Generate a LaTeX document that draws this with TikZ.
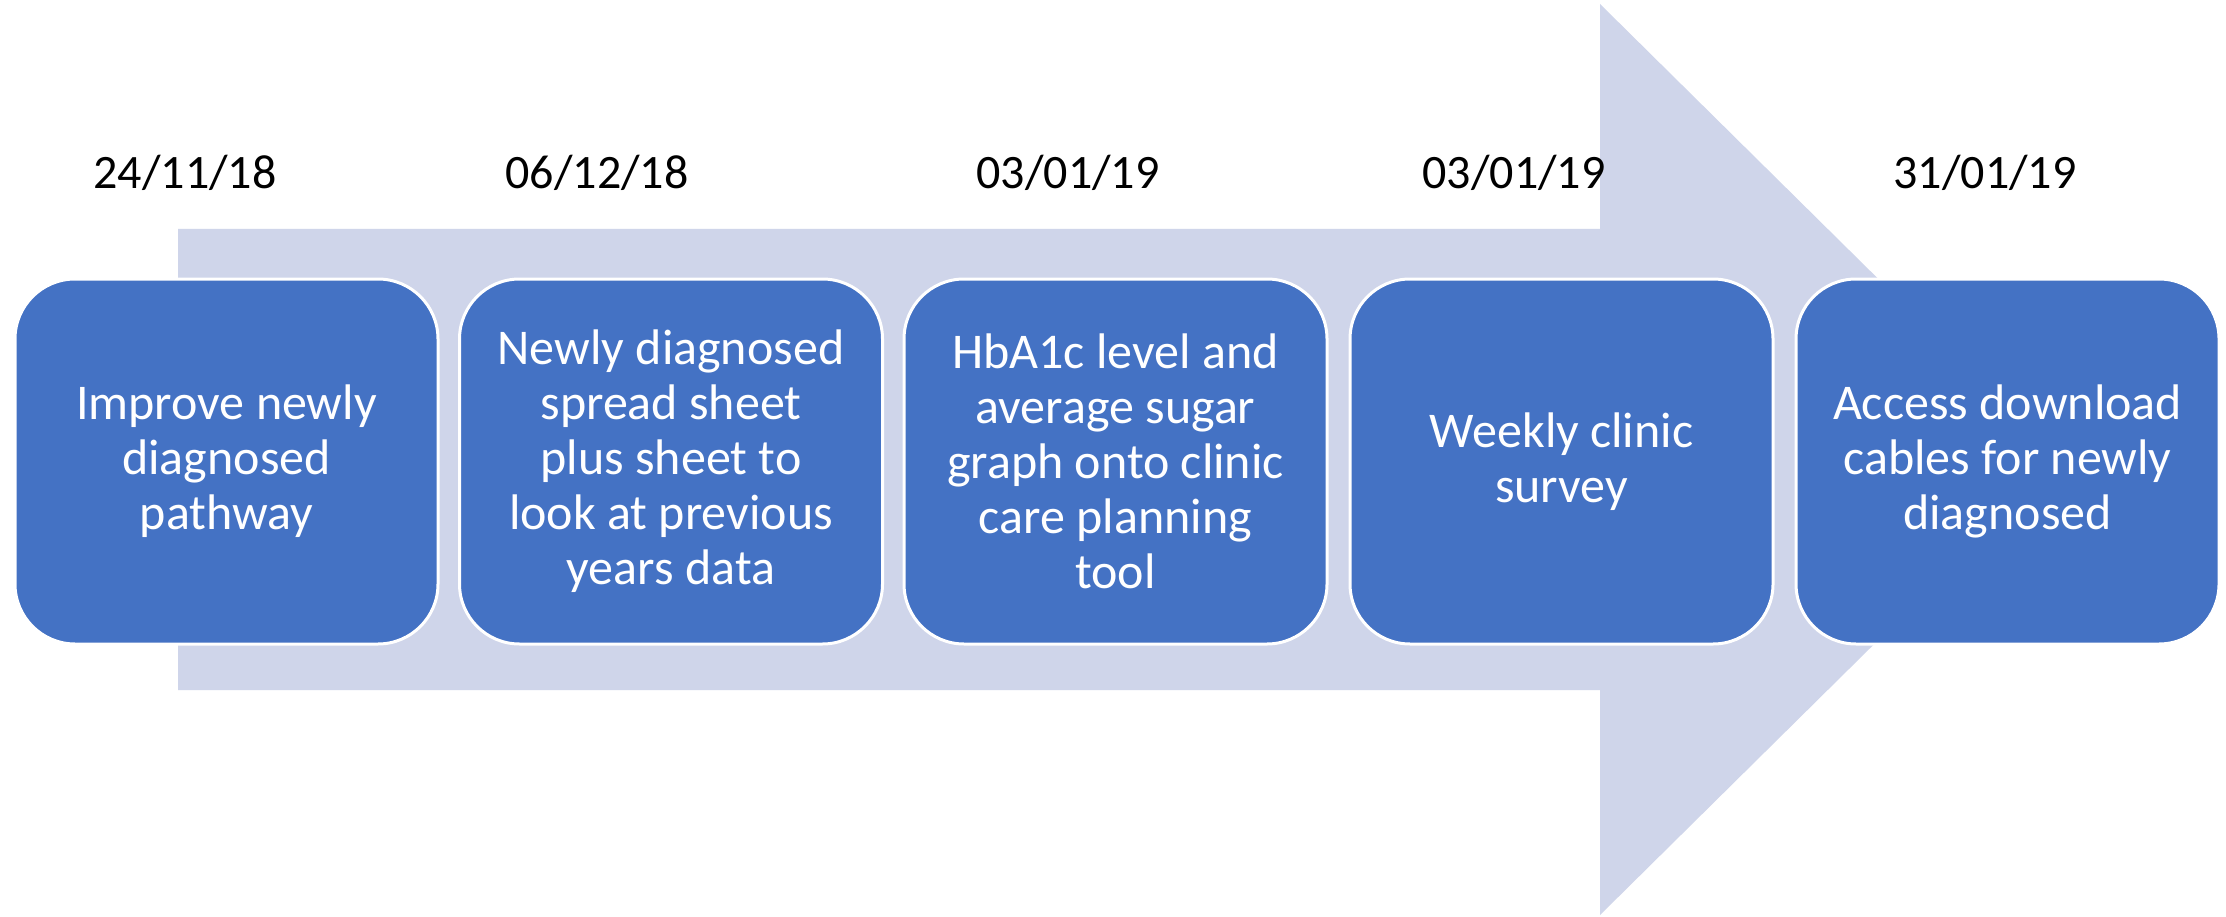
\documentclass[tikz,border=0pt]{standalone}
\usepackage{fontspec}
\setmainfont{Carlito}
\definecolor{boxblue}{HTML}{4472C4}
\definecolor{arrowfill}{HTML}{CFD5EA}
\begin{document}
\begin{tikzpicture}[x=1pt,y=-1pt,
  stepbox/.style={draw=white,line width=3pt,fill=boxblue,rounded corners=60pt,
    minimum width=423pt,minimum height=365pt,inner sep=0pt,text=white,
    align=center,font=\fontsize{50}{55}\selectfont},
  datelabel/.style={anchor=base,inner sep=0pt,font=\fontsize{48}{56}\selectfont}]
\useasboundingbox (0,0) rectangle (2226,917);
\fill[white] (0,0) rectangle (2226,917);
\fill[arrowfill] (178,229) -- (1600,229) -- (1600,4) -- (2061,459.5) -- (1600,915) -- (1600,690) -- (178,690) -- cycle;
\node[stepbox] (b1) at (226.5,461.5) {Improve newly\\diagnosed\\pathway};
\node[stepbox] (b2) at (671,461.5) {Newly diagnosed\\spread sheet\\plus sheet to\\look at previous\\years data};
\node[stepbox] (b3) at (1115.5,461.5) {HbA1c level and\\average sugar\\graph onto clinic\\care planning\\tool};
\node[stepbox] (b4) at (1561.5,461.5) {Weekly clinic\\survey};
\node[stepbox] (b5) at (2007.5,461.5) {Access download\\cables for newly\\diagnosed};
\node[datelabel] (d1) at (185,189) {24/11/18};
\node[datelabel] (d2) at (597,189) {06/12/18};
\node[datelabel] (d3) at (1068,189) {03/01/19};
\node[datelabel] (d4) at (1514,189) {03/01/19};
\node[datelabel] (d5) at (1985,189) {31/01/19};
\end{tikzpicture}
\end{document}
